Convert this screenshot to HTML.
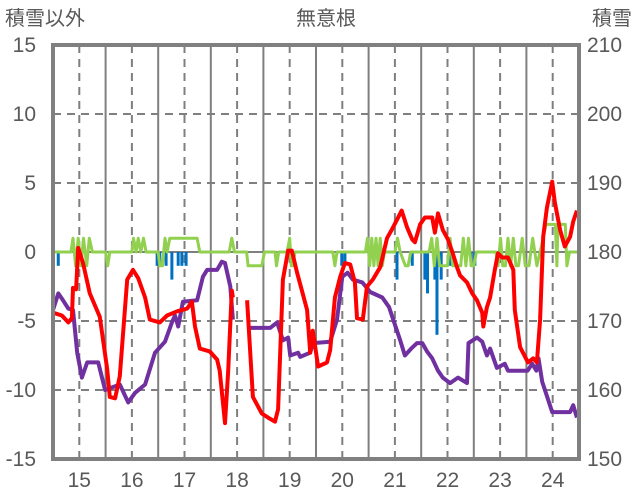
<!DOCTYPE html>
<html><head><meta charset="utf-8"><style>
html,body{margin:0;padding:0;background:#fff;}
svg{display:block;font-family:"Liberation Sans","Noto Sans CJK JP",sans-serif;}
</style></head><body>
<svg id="chart" width="636" height="501" viewBox="0 0 636 501">
<g id="grid"></g>
<g id="series"></g>
<g id="axes"></g>
<text x="5" y="25" font-size="20" fill="#595959">積雪以外</text>
<text x="326" y="25" font-size="20" fill="#595959" text-anchor="middle">無意根</text>
<text x="632" y="25" font-size="20" fill="#595959" text-anchor="end">積雪</text>
</svg>
<script>
const dayTicks=[15,16,17,18,19,20,21,22,23,24];
const leftTicks=[15,10,5,0,-5,-10,-15];
const rightTicks=[210,200,190,180,170,160,150];
const redT=[14.50,14.67,14.79,14.86,14.88,14.94,14.98,15.07,15.20,15.39,15.53,15.58,15.68,15.77,15.91,16.02,16.12,16.25,16.34,16.53,16.67,16.86,17.05,17.14,17.20,17.29,17.48,17.62,17.67,17.77,17.83,17.90,17.92,null,18.19,18.30,18.47,18.59,18.72,18.78,18.87,18.97,19.04,19.14,19.33,19.39,19.44,19.54,19.71,19.77,19.86,19.96,20.05,20.15,20.24,20.28,20.39,20.47,20.58,20.72,20.85,20.94,21.13,21.23,21.33,21.38,21.48,21.57,21.71,21.76,21.82,21.91,22.01,22.10,22.18,22.24,22.37,22.47,22.56,22.66,22.68,22.75,22.81,22.90,22.96,23.04,23.15,23.25,23.28,23.38,23.53,23.63,23.70,23.76,23.82,23.89,23.99,24.04,24.14,24.23,24.33,24.39,24.46];
const redV=[-4.4,-4.6,-5.1,-4.8,-2.6,-2.7,0.3,-0.8,-3.0,-4.7,-8.5,-10.5,-10.6,-9.0,-2.0,-1.3,-1.9,-3.3,-4.9,-5.1,-4.6,-4.3,-4.1,-3.6,-5.4,-7.0,-7.2,-7.8,-8.6,-12.4,-8.6,-2.8,-3.3,null,-3.5,-10.5,-11.7,-12.0,-12.3,-11.4,-2.0,0.1,0.1,-1.5,-4.2,-7.3,-5.7,-8.3,-8.0,-7.1,-3.3,-1.8,-0.8,-0.9,-2.2,-4.8,-4.9,-2.5,-2.0,-1.1,1.0,1.6,3.0,1.8,0.9,0.7,2.0,2.5,2.5,1.4,2.8,1.6,0.9,-0.1,-1.1,-1.7,-2.2,-3.0,-3.5,-4.4,-5.4,-4.0,-3.3,-1.3,-0.1,-0.4,-0.4,-1.3,-4.2,-6.9,-8.0,-7.7,-8.0,-4.9,1.1,3.2,5.1,3.6,1.6,0.4,1.1,2.2,3.0];
const snowT=[14.50,14.60,14.69,14.79,14.88,14.96,15.05,15.15,15.36,15.49,15.77,15.93,16.06,16.25,16.44,16.63,16.76,16.82,16.88,16.97,17.24,17.35,17.43,17.62,17.71,17.77,17.87,17.92,null,18.19,18.63,18.76,18.87,18.97,19.01,19.16,19.20,19.39,19.44,19.77,19.90,20.00,20.10,20.20,20.38,20.53,20.76,20.89,20.95,21.10,21.19,21.31,21.42,21.52,21.61,21.71,21.82,21.91,22.05,22.20,22.37,22.40,22.56,22.66,22.75,22.81,22.94,23.09,23.15,23.52,23.61,23.69,23.73,23.80,23.99,24.33,24.39,24.46];
const snowV=[171.6,174.0,173.0,171.8,171.6,165.4,161.8,164.0,164.0,160.0,160.8,158.2,159.6,160.8,165.4,167.0,169.8,170.8,169.2,172.8,173.0,176.4,177.4,177.4,178.6,178.4,175.0,170.2,null,169.0,169.0,169.8,167.2,167.6,165.0,165.4,164.8,165.4,166.8,167.0,170.2,176.4,177.0,176.0,175.6,174.2,173.4,172.0,170.6,167.2,165.0,166.0,166.8,166.8,165.6,164.6,162.8,161.8,161.0,161.8,161.0,166.8,167.6,167.0,165.0,166.0,163.2,163.8,162.8,162.8,163.8,162.8,164.6,161.2,156.8,156.8,157.8,156.0];
const greenT=[14.50,14.84,14.88,14.93,14.98,15.03,15.08,15.14,15.19,15.25,15.50,15.54,15.58,16.00,16.03,16.08,16.12,16.17,16.22,16.27,16.50,16.53,16.58,16.63,16.67,16.72,16.86,17.24,17.29,17.85,17.90,17.95,18.18,18.21,18.47,18.52,18.72,18.75,18.79,18.84,18.95,19.00,19.03,19.06,19.10,19.14,19.82,19.86,19.90,20.44,20.48,20.52,20.56,20.60,20.64,20.68,20.72,20.76,20.80,21.00,21.05,21.10,21.20,21.25,21.30,21.40,21.65,21.70,21.75,21.80,21.85,21.88,22.00,22.05,22.10,22.15,22.25,22.30,22.35,22.40,22.45,22.50,22.55,22.92,22.96,23.01,23.05,23.10,23.15,23.20,23.25,23.30,23.35,23.42,23.48,23.55,23.62,23.70,23.76,23.82,23.87,23.90,24.05,24.08,24.10,24.13,24.20,24.24,24.27,24.32,24.36,24.50];
const greenV=[0,0,1,-1,1,-1,1,-1,1,0,0,-1,0,0,1,0,1,0,1,0,0,-1,-1,1,0,1,1,1,0,0,1,0,0,-1,-1,0,0,-1,0,0,0,1,-1,-1,0,0,0,-1,0,0,1,-1,1,-1,1,-1,1,-1,0,0,1,0,-1,-1,0,0,0,1,-1,1,-1,-1,-1,1,-1,-1,-1,1,-1,1,-1,-1,0,0,-1,1,-1,-1,1,-1,1,-1,-1,1,-1,-1,1,-1,0,1,2,2,2,-1,2,2,2,2,-1,0,0,0];
const barT=[14.60,16.48,16.53,16.65,16.76,16.88,16.95,17.03,19.99,20.05,21.04,21.33,21.57,21.62,21.76,21.80,21.88,22.05,22.45,22.52];
const barV=[-1,-1,-1,-1,-2,-1,-1,-1,-1,-1,-2,-1,-2,-3,-2,-6,-2,-1,-1,-1];

const X0=53,X1=579,Y0=45,Y1=459,D0=14.5,D1=24.5;
function xS(d){return X0+(d-D0)/(D1-D0)*(X1-X0);}
function yL(v){return Y1-(v+15)/30*(Y1-Y0);}
function yR(v){return Y1-(v-150)/60*(Y1-Y0);}
const NS="http://www.w3.org/2000/svg";
function mk(tag,attrs,parent){const e=document.createElementNS(NS,tag);for(const k in attrs)e.setAttribute(k,attrs[k]);parent.appendChild(e);return e;}
const grid=document.getElementById('grid'),series=document.getElementById('series'),axes=document.getElementById('axes');

leftTicks.forEach(v=>{
  if(v===15||v===-15)return;
  const l=mk('line',{x1:X0,x2:X1,y1:yL(v),y2:yL(v),stroke:'#7f7f7f','stroke-width':2,'stroke-dasharray':v===0?'':'8,6'},grid);
  
  
});
dayTicks.forEach(d=>{
  const l=mk('line',{x1:xS(d),x2:xS(d),y1:Y0,y2:Y1,stroke:'#7f7f7f','stroke-width':2,'stroke-dasharray':'8,6'},grid);
  
  
  if(d<24){
    const b=mk('line',{x1:xS(d+0.5),x2:xS(d+0.5),y1:Y0,y2:Y1,stroke:'#7f7f7f','stroke-width':2},grid);
    
    
  }
});

function path(T,V,ys){let d='',pen=false;for(let i=0;i<T.length;i++){if(T[i]===null||V[i]===null){pen=false;continue;}d+=(pen?'L':'M')+xS(T[i]).toFixed(1)+' '+ys(V[i]).toFixed(1);pen=true;}return d;}

barT.forEach((t,i)=>{
  const r=mk('rect',{x:xS(t)-1.5,y:yL(0),width:3,height:yL(barV[i])-yL(0),fill:'#0070c0'},series);
  
  
});
const g=mk('path',{d:path(greenT,greenV,yL),fill:'none',stroke:'#92d050','stroke-width':3,'stroke-linejoin':'round'},series);


const s=mk('path',{d:path(snowT,snowV,yR),fill:'none',stroke:'#7030a0','stroke-width':4,'stroke-linejoin':'round'},series);


const r=mk('path',{d:path(redT,redV,yL),fill:'none',stroke:'#ff0000','stroke-width':4,'stroke-linejoin':'round'},series);



const fr=mk('rect',{x:X0,y:Y0,width:X1-X0,height:Y1-Y0,fill:'none',stroke:'#808080','stroke-width':4},axes);


leftTicks.forEach(v=>{
  const t=mk('text',{x:36,y:yL(v)+7,'font-size':21,fill:'#595959','text-anchor':'end'},axes);
  t.textContent=v;
  
  
});
rightTicks.forEach(v=>{
  const t=mk('text',{x:587,y:yL((v-180)/2)+7,'font-size':21,fill:'#595959'},axes);
  t.textContent=v;
  
  
});
dayTicks.forEach(d=>{
  const t=mk('text',{x:xS(d),y:487,'font-size':21,fill:'#595959','text-anchor':'middle'},axes);
  t.textContent=d;
  
  
});
</script>
</body></html>
